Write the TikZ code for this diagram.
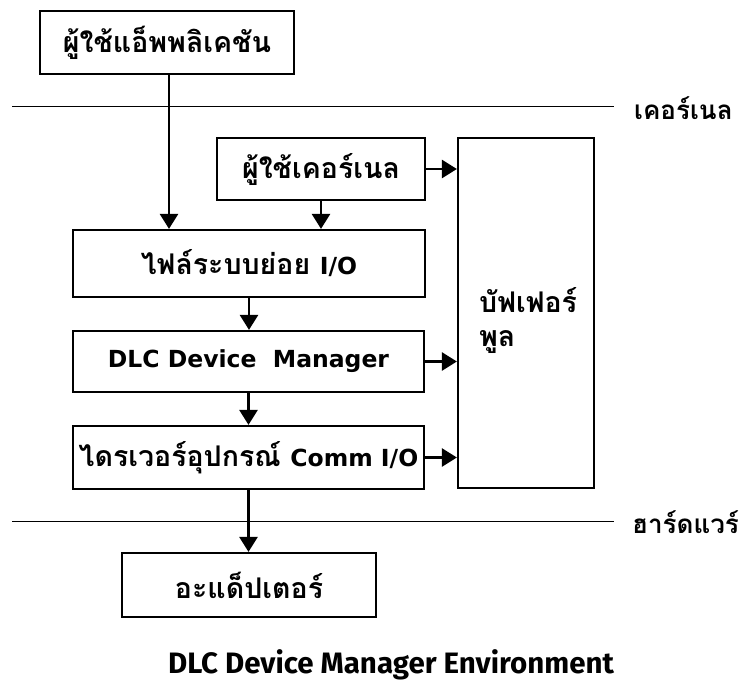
\documentclass[tikz,border=0pt]{standalone}
\usepackage{fontspec}
\newfontfamily\thaifont[Script=Thai]{Loma}
\newfontfamily\latinfont{DejaVu Sans}
\newfontfamily\capfont{Fira Sans}
\usetikzlibrary{arrows.meta}
\newcommand{\lat}[1]{{\latinfont\bfseries\fontsize{23.5}{28}\selectfont #1}}
\tikzset{
  box/.style={draw, line width=2.2pt, inner sep=0pt, align=center,
    font=\thaifont\bfseries\fontsize{28.5}{32}\selectfont},
  arr/.style={line width=2.6pt, -{Triangle[length=15pt,width=18pt]}},
  layer/.style={line width=1pt},
  layerlabel/.style={font=\thaifont\bfseries\fontsize{26}{30}\selectfont, anchor=west, inner sep=0pt}
}
\begin{document}
\begin{tikzpicture}[x=1pt,y=-1pt]
\useasboundingbox (0,0) rectangle (744,686);

% layer separators
\coordinate (k1) at (12,106);
\coordinate (k2) at (614,106);
\coordinate (h1) at (12,521);
\coordinate (h2) at (614,521);
\draw[layer] (k1) -- (k2);
\draw[layer] (h1) -- (h2);
\node[layerlabel] (klabel) at (634,108) {เคอร์เนล};
\node[layerlabel] (hlabel) at (632,522) {ฮาร์ดแวร์};

% blocks
\node[box, minimum width=254pt, minimum height=63pt] (app) at (167,42.5) {ผู้ใช้แอ็พพลิเคชัน};
\node[box, minimum width=208pt, minimum height=62pt] (kuser) at (321,169) {ผู้ใช้เคอร์เนล};
\node[box, minimum width=352pt, minimum height=67pt] (fsio) at (249,263.5) {ไฟล์ระบบย่อย \lat{I/O}};
\node[box, minimum width=351pt, minimum height=61pt] (dlc) at (248.5,361.5) {\lat{DLC Device\ \ Manager}};
\node[box, minimum width=351pt, minimum height=63pt] (drv) at (248.5,457.5) {ไดรเวอร์อุปกรณ์ \lat{Comm I/O}};
\node[box, minimum width=254pt, minimum height=64pt] (adp) at (249,585) {อะแด็ปเตอร์};
\node[box, minimum width=136pt, minimum height=350pt] (pool) at (526,313) {};
\node[anchor=west, inner sep=0pt, align=left,
  font=\thaifont\bfseries\fontsize{28.5}{34}\selectfont] (pooltext) at (479,320) {บัฟเฟอร์\\พูล};

% connectors
\coordinate (appout) at (169,74);
\draw[arr] (appout) -- (appout |- fsio.north);
\draw[arr] (kuser.south) -- (kuser.south |- fsio.north);
\draw[arr] (kuser.east) -- (kuser.east -| pool.west);
\draw[arr] (fsio.south) -- (fsio.south |- dlc.north);
\draw[arr] (dlc.east) -- (dlc.east -| pool.west);
\draw[arr] (dlc.south) -- (dlc.south |- drv.north);
\draw[arr] (drv.east) -- (drv.east -| pool.west);
\draw[arr] (drv.south) -- (drv.south |- adp.north);

% caption
\node[font=\capfont\bfseries\fontsize{29.5}{34}\selectfont] (caption) at (391,665) {DLC Device Manager Environment};
\end{tikzpicture}
\end{document}
